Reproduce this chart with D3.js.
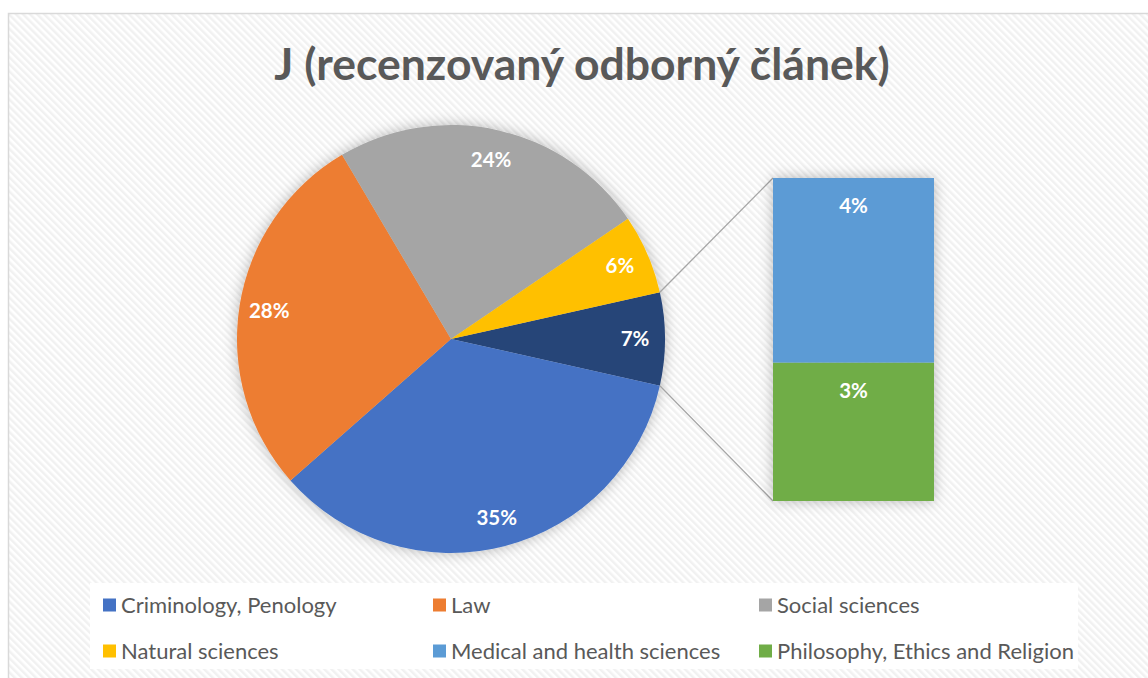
<!DOCTYPE html>
<html>
<head>
<meta charset="utf-8">
<script src="https://cdn.jsdelivr.net/npm/d3@7"></script>
<style>
  body { margin: 0; background: #ffffff; }
  svg { display: block; font-family: Lato, "Open Sans", sans-serif; }
</style>
</head>
<body>
<div id="chart"></div>
<script>
// Data
let pieCategories = ["Other", "Criminology, Penology", "Law", "Social sciences", "Natural sciences"];
let pieValues = [7, 35, 28, 24, 6];
let pieColors = ["#264478", "#4472C4", "#ED7D31", "#A5A5A5", "#FFC000"];

let barCategories = ["Philosophy, Ethics and Religion", "Medical and health sciences"];
let barValues = [3, 4];
let barColors = ["#70AD47", "#5B9BD5"];

let legendNames = ["Criminology, Penology", "Law", "Social sciences",
    "Natural sciences", "Medical and health sciences", "Philosophy, Ethics and Religion"];
let legendColors = ["#4472C4", "#ED7D31", "#A5A5A5", "#FFC000", "#5B9BD5", "#70AD47"];

let svgWidth = 1148;
let svgHeight = 678;

let svg = d3.select("#chart")
    .append("svg")
    .attr("width", svgWidth)
    .attr("height", svgHeight);

let defs = svg.append("defs");

// diagonal hatch background
let pattern = defs.append("pattern")
    .attr("id", "hatch")
    .attr("patternUnits", "userSpaceOnUse")
    .attr("width", 5)
    .attr("height", 5)
    .attr("patternTransform", "rotate(-45)");
pattern.append("rect").attr("width", 5).attr("height", 5).attr("fill", "#ffffff");
pattern.append("rect").attr("width", 2.5).attr("height", 5).attr("fill", "#f1f1f1");

let shadow = defs.append("filter")
    .attr("id", "shadow")
    .attr("x", "-20%").attr("y", "-20%")
    .attr("width", "140%").attr("height", "140%");
shadow.append("feDropShadow")
    .attr("dx", 0).attr("dy", 0)
    .attr("stdDeviation", 7)
    .attr("flood-color", "#000")
    .attr("flood-opacity", 0.28);

// chart area
svg.append("rect")
    .attr("x", 8.5).attr("y", 13.5)
    .attr("width", 1160).attr("height", 700)
    .attr("fill", "url(#hatch)")
    .attr("stroke", "#d9d9d9")
    .attr("stroke-width", 1.5);

// title
svg.append("text")
    .attr("x", 582)
    .attr("y", 80)
    .attr("text-anchor", "middle")
    .attr("font-size", 44.5)
    .attr("font-weight", "bold")
    .attr("fill", "#595959")
    .text("J (recenzovaný odborný článek)");

// pie
let cx = 451, cy = 339, radius = 214;
let otherAngle = pieValues[0] / d3.sum(pieValues) * 2 * Math.PI;

let pie = d3.pie()
    .sort(null)
    .value(d => d)
    .startAngle(Math.PI / 2 - otherAngle / 2)
    .endAngle(Math.PI / 2 - otherAngle / 2 + 2 * Math.PI);

let arcs = pie(pieValues);
let arc = d3.arc().innerRadius(0).outerRadius(radius);
let labelArc = d3.arc().innerRadius(184).outerRadius(184);

let pieGroup = svg.append("g")
    .attr("transform", `translate(${cx}, ${cy})`);

pieGroup.append("g")
    .attr("filter", "url(#shadow)")
    .selectAll("path")
    .data(arcs)
    .enter()
    .append("path")
    .attr("d", arc)
    .attr("fill", (d, i) => pieColors[i]);

pieGroup.selectAll(".pie-label")
    .data(arcs)
    .enter()
    .append("text")
    .attr("class", "pie-label")
    .attr("x", d => labelArc.centroid(d)[0])
    .attr("y", d => labelArc.centroid(d)[1])
    .attr("dy", "0.36em")
    .attr("text-anchor", "middle")
    .attr("font-size", 20.5)
    .attr("font-weight", "bold")
    .attr("fill", "#ffffff")
    .text(d => d.value + "%");

// bar of the "other" slice
let barX = 773, barW = 161;
let yScale = d3.scaleLinear()
    .domain([0, d3.sum(barValues)])
    .range([501, 178]);

let stacked = [];
let acc = 0;
barValues.forEach(function(v, i) {
    stacked.push({ name: barCategories[i], value: v, y0: acc, y1: acc + v, color: barColors[i] });
    acc += v;
});

// connector lines
let other = arcs[0];
let p1 = [cx + radius * Math.sin(other.endAngle), cy - radius * Math.cos(other.endAngle)];
let p2 = [cx + radius * Math.sin(other.startAngle), cy - radius * Math.cos(other.startAngle)];
svg.append("line")
    .attr("x1", p2[0]).attr("y1", p2[1])
    .attr("x2", barX).attr("y2", yScale(acc))
    .attr("stroke", "#a5a5a5").attr("stroke-width", 1.3);
svg.append("line")
    .attr("x1", p1[0]).attr("y1", p1[1])
    .attr("x2", barX).attr("y2", yScale(0))
    .attr("stroke", "#a5a5a5").attr("stroke-width", 1.3);

let barGroup = svg.append("g");
barGroup.append("g")
    .attr("filter", "url(#shadow)")
    .selectAll("rect")
    .data(stacked)
    .enter()
    .append("rect")
    .attr("x", barX)
    .attr("width", barW)
    .attr("y", d => yScale(d.y1))
    .attr("height", d => yScale(d.y0) - yScale(d.y1))
    .attr("fill", d => d.color);

barGroup.selectAll(".bar-label")
    .data(stacked)
    .enter()
    .append("text")
    .attr("class", "bar-label")
    .attr("x", barX + barW / 2)
    .attr("y", d => yScale(d.y1) + 28)
    .attr("dy", "0.36em")
    .attr("text-anchor", "middle")
    .attr("font-size", 20.5)
    .attr("font-weight", "bold")
    .attr("fill", "#ffffff")
    .text(d => d.value + "%");

// legend
svg.append("rect")
    .attr("x", 90).attr("y", 583)
    .attr("width", 988).attr("height", 86)
    .attr("fill", "#ffffff");

let legendCols = [103, 433, 759];
let legendRows = [605, 651];

let legend = svg.selectAll(".legend-item")
    .data(legendNames)
    .enter()
    .append("g")
    .attr("class", "legend-item")
    .attr("transform", (d, i) => `translate(${legendCols[i % 3]}, ${legendRows[Math.floor(i / 3)]})`);

legend.append("rect")
    .attr("x", 0).attr("y", -6.5)
    .attr("width", 13).attr("height", 13)
    .attr("fill", (d, i) => legendColors[i]);

legend.append("text")
    .attr("x", 18)
    .attr("y", 0)
    .attr("dy", "0.36em")
    .attr("font-size", 22)
    .attr("fill", "#595959")
    .text(d => d);
</script>
</body>
</html>
